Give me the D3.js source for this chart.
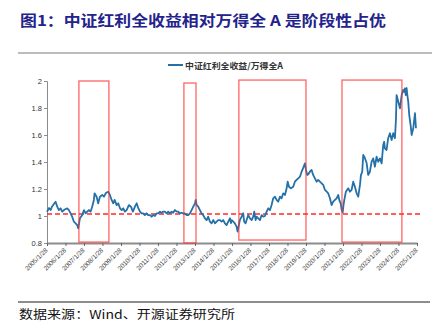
<!DOCTYPE html>
<html>
<head>
<meta charset="utf-8">
<script src="https://cdn.jsdelivr.net/npm/d3@7"></script>
<style>
  html, body { margin: 0; padding: 0; background: #fff; }
  svg { display: block; }
</style>
</head>
<body>
<svg id="chart" width="439" height="336"></svg>
<script>
// ---------- data ----------
const titleText = "图1：中证红利全收益相对万得全 A 是阶段性占优";
const seriesName = "中证红利全收益/万得全A";
const sourceText = "数据来源：Wind、开源证券研究所";

const dates = [
"2005-01-28","2005-03-08","2005-04-09","2005-05-05","2005-06-13","2005-07-17","2005-08-18","2005-09-20","2005-10-24","2005-11-25","2005-12-29",
"2006-02-01","2006-03-04","2006-04-05","2006-05-09","2006-06-09","2006-07-13","2006-08-16","2006-09-17","2006-10-06","2006-11-09","2006-12-25",
"2007-01-28","2007-03-02","2007-04-02","2007-05-05","2007-06-07","2007-07-09","2007-08-12","2007-08-25","2007-10-04","2007-11-05","2007-12-09",
"2008-01-24","2008-02-27","2008-03-31","2008-05-01","2008-05-21","2008-06-23","2008-07-27","2008-08-28","2008-09-24","2008-11-03","2008-12-05",
"2009-01-08","2009-02-11","2009-03-14","2009-04-15","2009-05-19","2009-07-03","2009-08-12","2009-09-20","2009-10-30","2009-12-03",
"2010-01-04","2010-02-07","2010-03-12","2010-04-11","2010-05-15","2010-06-17","2010-07-19","2010-08-22","2010-09-24","2010-10-26","2010-11-29",
"2011-01-02","2011-02-03","2011-03-08","2011-04-09","2011-05-11","2011-06-13","2011-07-17","2011-08-18","2011-09-20","2011-10-24","2011-11-25","2011-12-29",
"2012-02-01","2012-03-04","2012-04-05","2012-05-09","2012-06-09","2012-07-13","2012-08-16","2012-09-17","2012-10-20","2012-11-22","2012-12-25",
"2013-01-28","2013-02-11","2013-03-02","2013-04-02","2013-05-05","2013-06-07","2013-07-09","2013-08-12","2013-09-15","2013-10-16","2013-11-19","2013-12-22",
"2014-01-24","2014-02-27","2014-03-31","2014-05-01","2014-06-03","2014-07-07","2014-08-08","2014-09-11","2014-10-14","2014-11-15","2014-12-19",
"2015-01-08","2015-01-22","2015-02-23","2015-03-26","2015-04-29","2015-05-19","2015-05-31","2015-07-03","2015-08-06","2015-09-07","2015-09-26","2015-10-24","2015-11-13","2015-12-15",
"2016-01-18","2016-02-21","2016-03-22","2016-04-11","2016-05-09","2016-05-29","2016-06-30","2016-08-03","2016-09-05","2016-10-06","2016-11-09","2016-12-12",
"2017-01-13","2017-02-17","2017-03-20","2017-04-21","2017-05-25","2017-06-27","2017-07-29","2017-09-01","2017-10-04","2017-11-05","2017-12-09",
"2018-01-11","2018-02-01","2018-02-27","2018-04-05","2018-05-21","2018-06-23","2018-07-27","2018-08-28","2018-10-01","2018-11-03","2018-12-05",
"2019-01-08","2019-01-28","2019-02-23","2019-03-18","2019-04-15","2019-05-19","2019-06-19","2019-07-23","2019-08-26","2019-09-26","2019-10-30","2019-12-03",
"2020-01-04","2020-02-07","2020-03-12","2020-04-11","2020-05-15","2020-06-17","2020-07-19","2020-08-22","2020-09-24","2020-10-26","2020-11-15","2020-12-13",
"2021-01-02","2021-01-22","2021-02-07","2021-02-23","2021-03-26","2021-05-11","2021-06-13","2021-07-17","2021-08-18","2021-09-20","2021-10-24","2021-11-25","2021-12-29",
"2022-01-18","2022-02-11","2022-03-04","2022-04-05","2022-05-09","2022-06-09","2022-07-13","2022-08-16","2022-09-17","2022-10-20","2022-11-22","2022-12-25",
"2023-01-28","2023-03-02","2023-04-02","2023-04-21","2023-05-05","2023-06-07","2023-07-09","2023-08-12","2023-09-15","2023-10-16","2023-11-19","2023-12-09","2023-12-22",
"2024-01-24","2024-02-27","2024-03-31","2024-05-01","2024-05-20","2024-06-03","2024-06-20","2024-07-07","2024-07-23","2024-08-08","2024-08-28","2024-09-24","2024-10-14","2024-11-15","2024-12-19","2025-01-08"
];

const ratio = [
1.03,1.059,1.044,1.069,1.089,1.106,1.069,1.044,1.057,1.032,1.044,
1.052,1.057,1.044,1.02,0.995,0.958,0.946,0.933,0.909,0.983,1.007,
1.044,1.02,1.032,1.044,1.032,1.069,1.119,1.168,1.143,1.094,1.143,
1.156,1.143,1.168,1.176,1.18,1.156,1.119,1.094,1.119,1.081,1.094,
1.057,1.044,1.057,1.032,1.044,1.081,1.069,1.032,1.069,1.094,
1.059,1.032,1.02,1.02,1.007,1.02,1.007,1.007,0.995,1.007,1.0,
1.02,1.02,1.032,1.024,1.032,1.032,1.02,1.032,1.02,1.032,1.024,1.044,
1.032,1.032,1.02,1.024,1.02,1.02,1.007,1.007,1.02,1.044,1.069,
1.094,1.119,1.081,1.069,1.044,1.02,1.007,0.983,0.97,0.995,0.958,0.946,
0.97,0.946,0.958,0.97,0.97,0.958,0.97,0.946,0.933,0.958,0.983,
0.948,0.97,0.958,0.946,0.921,0.884,0.909,0.97,0.995,1.02,0.958,0.946,0.97,1.007,
0.983,0.97,0.995,1.032,0.97,0.995,0.983,0.97,1.007,0.995,1.0,1.032,
1.057,1.044,1.081,1.131,1.143,1.119,1.106,1.143,1.131,1.168,1.156,
1.205,1.254,1.217,1.205,1.217,1.254,1.267,1.279,1.291,1.328,1.356,
1.39,1.341,1.304,1.311,1.328,1.341,1.304,1.279,1.254,1.267,1.254,1.242,
1.23,1.193,1.18,1.168,1.131,1.081,1.106,1.119,1.131,1.156,1.119,1.094,
1.044,1.026,1.081,1.119,1.18,1.205,1.18,1.193,1.254,1.217,1.168,1.143,1.23,
1.304,1.326,1.452,1.43,1.393,1.304,1.328,1.402,1.427,1.365,1.439,1.402,
1.427,1.39,1.526,1.55,1.501,1.489,1.576,1.613,1.563,1.613,1.576,1.711,1.896,
1.847,1.798,1.896,1.933,1.919,1.946,1.896,1.948,1.889,1.847,1.748,1.674,1.60,1.65,1.761,1.65
];

const yTicks = [0.8, 1, 1.2, 1.4, 1.6, 1.8, 2];
const yTickLabels = ["0.8", "1", "1.2", "1.4", "1.6", "1.8", "2"];

const xTickDates = ["2005-01-28","2006-01-28","2007-01-28","2008-01-28","2009-01-28","2010-01-28","2011-01-28",
  "2012-01-28","2013-01-28","2014-01-28","2015-01-28","2016-01-28","2017-01-28","2018-01-28","2019-01-28",
  "2020-01-28","2021-01-28","2022-01-28","2023-01-28","2024-01-28","2025-01-28"];
const xTickLabels = ["2005/1/28","2006/1/28","2007/1/28","2008/1/28","2009/1/28","2010/1/28","2011/1/28",
  "2012/1/28","2013/1/28","2014/1/28","2015/1/28","2016/1/28","2017/1/28","2018/1/28","2019/1/28",
  "2020/1/28","2021/1/28","2022/1/28","2023/1/28","2024/1/28","2025/1/28"];

// reference (dashed) level and its span
const refLevel = 1.015;
const refSpan = ["2005-01-28", "2025-04-15"];

// highlighted periods (red boxes): start, end, top value, bottom value
const boxStarts = ["2006-10-20", "2012-06-23", "2015-06-13", "2021-01-08"];
const boxEnds   = ["2008-06-03", "2013-02-17", "2019-01-28", "2024-04-05"];
const boxTops   = [2.0, 1.985, 2.007, 2.007];
const boxBottoms= [0.807, 0.80, 0.822, 0.807];

// ---------- drawing ----------
const parse = d3.timeParse("%Y-%m-%d");
const svg = d3.select("#chart");
svg.append("rect").attr("width", 439).attr("height", 336).attr("fill", "#fff");

const x = d3.scaleTime()
  .domain([parse("2005-01-28"), parse("2025-01-28")])
  .range([47, 417]);
const y = d3.scaleLinear().domain([0.8, 2]).range([243, 81]);

const latin = "'Liberation Sans', Arial, sans-serif";
const cjk = "'Noto Sans CJK SC', 'Noto Sans', sans-serif";

// title
svg.append("text")
  .attr("x", 20).attr("y", 26)
  .attr("textLength", 366).attr("lengthAdjust", "spacingAndGlyphs")
  .style("font-family", cjk).style("font-size", "15px").style("font-weight", "bold")
  .attr("fill", "#23238b")
  .text(titleText);

// top rule
svg.append("line").attr("x1", 18).attr("x2", 432).attr("y1", 53).attr("y2", 53)
  .attr("stroke", "#a6a6a6").attr("stroke-width", 1.3);

// legend
svg.append("line").attr("x1", 168).attr("x2", 183).attr("y1", 65).attr("y2", 65)
  .attr("stroke", "#2470a8").attr("stroke-width", 2);
svg.append("text").attr("x", 185).attr("y", 68.5)
  .attr("textLength", 98).attr("lengthAdjust", "spacingAndGlyphs")
  .style("font-family", cjk).style("font-size", "8.5px").style("font-weight", "bold")
  .attr("fill", "#333").text(seriesName);

// y axis
const yAxis = d3.axisLeft(y).tickValues(yTicks)
  .tickFormat((d, i) => yTickLabels[i]).tickSize(3).tickPadding(2);
const gy = svg.append("g").attr("transform", "translate(47,0)").call(yAxis);
gy.select(".domain").attr("stroke", "#8c8c8c").attr("stroke-width", 1);
gy.selectAll(".tick line").attr("stroke", "#8c8c8c");
gy.selectAll("text").style("font-family", latin).style("font-size", "7.5px").attr("fill", "#333");

// x axis
const xTickVals = xTickDates.map(parse);
const xAxis = d3.axisBottom(x).tickValues(xTickVals)
  .tickFormat((d, i) => xTickLabels[i]).tickSize(3).tickSizeOuter(0);
const gx = svg.append("g").attr("transform", "translate(0,243)").call(xAxis);
gx.select(".domain").attr("stroke", "#8c8c8c").attr("stroke-width", 2);
gx.selectAll(".tick line").attr("stroke", "#666");
gx.selectAll("text")
  .attr("x", 0).attr("y", 0).attr("dy", "0.35em")
  .attr("transform", "translate(-1,6) rotate(-45)")
  .style("text-anchor", "end")
  .style("font-family", latin).style("font-size", "6.5px").attr("fill", "#404040");

// dashed reference line
svg.append("line")
  .attr("x1", x(parse(refSpan[0]))).attr("x2", x(parse(refSpan[1])))
  .attr("y1", y(refLevel)).attr("y2", y(refLevel))
  .attr("stroke", "#ff2a2a").attr("stroke-width", 1.4)
  .attr("stroke-dasharray", "5,3");

// series line
const pts = dates.map((d, i) => ({ date: parse(d), v: ratio[i] }));
const line = d3.line().x(d => x(d.date)).y(d => y(d.v));
svg.append("path").datum(pts)
  .attr("d", line).attr("fill", "none")
  .attr("stroke", "#2470a8").attr("stroke-width", 1.8)
  .attr("stroke-linejoin", "round");

// red boxes
const boxes = boxStarts.map((s, i) => ({ s: parse(s), e: parse(boxEnds[i]), t: boxTops[i], b: boxBottoms[i] }));
svg.append("g").selectAll("rect").data(boxes).join("rect")
  .attr("x", d => x(d.s)).attr("y", d => y(d.t))
  .attr("width", d => x(d.e) - x(d.s)).attr("height", d => y(d.b) - y(d.t))
  .attr("fill", "none").attr("stroke", "#ff3030").attr("stroke-opacity", 0.75)
  .attr("stroke-width", 1.3);

// bottom rule and source
svg.append("line").attr("x1", 18).attr("x2", 430).attr("y1", 302).attr("y2", 302)
  .attr("stroke", "#8c8c8c").attr("stroke-width", 1.8);
svg.append("text").attr("x", 19).attr("y", 319)
  .attr("textLength", 216).attr("lengthAdjust", "spacingAndGlyphs")
  .style("font-family", cjk).style("font-size", "12px")
  .attr("fill", "#111").text(sourceText);
</script>
</body>
</html>
